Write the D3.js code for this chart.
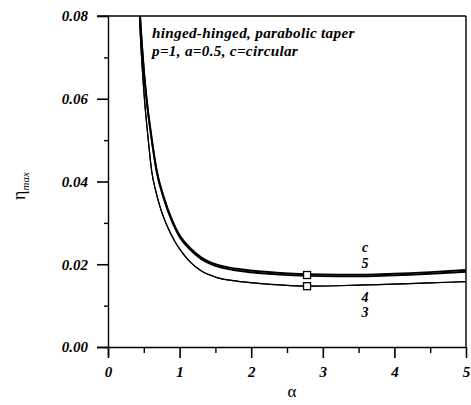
<!DOCTYPE html>
<html><head><meta charset="utf-8">
<script src="https://cdn.jsdelivr.net/npm/d3@7"></script>
<style>
html,body{margin:0;padding:0;background:#fff;}
svg text{font-family:"Liberation Serif","Times New Roman",serif;font-style:italic;fill:#000;}
</style></head>
<body><svg id="chart" width="471" height="405"></svg>
<script>
// ---- data ----
const xTicks = [0, 1, 2, 3, 4, 5];
const xMinorTicks = [0.5, 1.5, 2.5, 3.5, 4.5];
const yTicks = [0.00, 0.02, 0.04, 0.06, 0.08];
const yMinorTicks = [0.01, 0.03, 0.05, 0.07];

const alphaThick = [0.43, 0.447, 0.50, 0.54, 0.60, 0.68, 0.78, 0.90, 1.00, 1.15, 1.30, 1.50, 1.80, 2.10, 2.40, 2.78, 3.20, 3.60, 4.00, 4.50, 5.00];
const etaC       = [0.085, 0.080, 0.0672, 0.0599, 0.0517, 0.0427, 0.0362, 0.0305, 0.0270, 0.0239, 0.0217, 0.0200, 0.0189, 0.0183, 0.0179, 0.0176, 0.0175, 0.0175, 0.0177, 0.0181, 0.0186];
const eta5       = [0.085, 0.080, 0.0668, 0.0595, 0.0513, 0.0423, 0.0358, 0.0301, 0.0266, 0.0235, 0.0213, 0.0196, 0.0185, 0.0179, 0.0175, 0.0172, 0.0171, 0.0171, 0.0173, 0.0177, 0.0182];

const alphaThin  = [0.43, 0.44, 0.48, 0.51, 0.56, 0.61, 0.67, 0.73, 0.82, 0.94, 1.05, 1.15, 1.30, 1.50, 1.80, 2.10, 2.40, 2.78, 3.20, 3.60, 4.00, 4.50, 5.00];
const eta4       = [0.085, 0.080, 0.0670, 0.0597, 0.0505, 0.0425, 0.0375, 0.0337, 0.0295, 0.0253, 0.0225, 0.0205, 0.0184, 0.0169, 0.0159, 0.0154, 0.0150, 0.0147, 0.0148, 0.0150, 0.0152, 0.0155, 0.0158];
const eta3       = [0.085, 0.080, 0.0670, 0.0597, 0.0505, 0.0425, 0.0375, 0.0337, 0.0295, 0.0253, 0.0225, 0.0205, 0.0184, 0.0169, 0.0159, 0.0154, 0.0150, 0.0147, 0.0148, 0.0150, 0.0152, 0.0155, 0.0158];

const markerAlpha = [2.78, 2.78];
const markerEta   = [0.0174, 0.0147];

const seriesLabels = ["c", "5", "4", "3"];
const seriesLabelEta = [0.0230, 0.0191, 0.0109, 0.0073];
const seriesLabelAlpha = 3.59;

const noteLines = ["hinged-hinged, parabolic taper", "p=1, a=0.5, c=circular"];

// ---- drawing ----
const svg = d3.select("#chart");
const x = d3.scaleLinear().domain([0, 5]).range([108, 466]);
const y = d3.scaleLinear().domain([0, 0.08]).range([347, 16]);

svg.append("defs").append("clipPath").attr("id", "clip")
  .append("rect").attr("x", 108).attr("y", 16).attr("width", 358).attr("height", 331);

// frame
svg.append("line").attr("x1", 97).attr("x2", 466).attr("y1", y(0.08)).attr("y2", y(0.08)).attr("stroke", "#000").attr("stroke-width", 1.4);
svg.append("line").attr("x1", 466).attr("x2", 466).attr("y1", y(0.08)).attr("y2", y(0)).attr("stroke", "#000").attr("stroke-width", 1.4);

const styleAxis = g => {
  g.select(".domain").attr("stroke", "#000").attr("stroke-width", 1.4);
  g.selectAll(".tick line").attr("stroke", "#000").attr("stroke-width", 1.6);
  g.selectAll("text").style("font-size", "15px").style("font-style", "italic").style("font-weight", "bold")
    .style("font-family", '"Liberation Serif", serif');
};

// x axis
svg.append("g").attr("transform", `translate(0,${y(0)})`)
  .call(d3.axisBottom(x).tickValues(xTicks).tickSize(11).tickPadding(8).tickFormat(d3.format("d")).tickSizeOuter(0))
  .call(styleAxis)
  .call(g => g.select(".domain").attr("d", `M97,0.5H466`));
svg.append("g").attr("transform", `translate(0,${y(0)})`)
  .call(d3.axisBottom(x).tickValues(xMinorTicks).tickSize(6).tickFormat(""))
  .call(g => g.select(".domain").remove())
  .call(g => g.selectAll(".tick line").attr("stroke", "#000").attr("stroke-width", 1.4));

// y axis
svg.append("g").attr("transform", `translate(${x(0)},0)`)
  .call(d3.axisLeft(y).tickValues(yTicks).tickSize(11).tickPadding(9).tickFormat(d3.format(".2f")).tickSizeOuter(0))
  .call(styleAxis)
  .call(g => g.select(".domain").attr("d", `M0.5,${y(0.08)}V${y(0) + 9}`));
svg.append("g").attr("transform", `translate(${x(0)},0)`)
  .call(d3.axisLeft(y).tickValues(yMinorTicks).tickSize(4).tickFormat(""))
  .call(g => g.select(".domain").remove())
  .call(g => g.selectAll(".tick line").attr("stroke", "#000").attr("stroke-width", 1.4));

// axis titles
svg.append("text").attr("x", 292).attr("y", 397).attr("text-anchor", "middle")
  .style("font-size", "17px").style("font-style", "normal").text("α");
const yl = svg.append("text").attr("transform", "translate(25,186) rotate(-90)").attr("text-anchor", "middle")
  .style("font-size", "18px").style("font-style", "normal");
yl.append("tspan").text("η");
yl.append("tspan").attr("dy", 4).style("font-size", "11px").style("font-style", "italic").text("max");

// curves
const line = d3.line().x(d => x(d[0])).y(d => y(d[1])).curve(d3.curveMonotoneX);
const plot = svg.append("g").attr("clip-path", "url(#clip)");
const curves = [
  {a: alphaThick, e: etaC, w: 1.9},
  {a: alphaThick, e: eta5, w: 1.9},
  {a: alphaThin, e: eta4, w: 1.2},
  {a: alphaThin, e: eta3, w: 1.2}
];
curves.forEach(c => {
  plot.append("path").datum(c.a.map((v, i) => [v, c.e[i]]))
    .attr("d", line).attr("fill", "none").attr("stroke", "#000").attr("stroke-width", c.w);
});

// markers (open squares)
svg.selectAll("rect.mk").data(markerAlpha.map((a, i) => [a, markerEta[i]])).enter()
  .append("rect").attr("class", "mk")
  .attr("x", d => x(d[0]) - 3.5).attr("y", d => y(d[1]) - 3.5)
  .attr("width", 7).attr("height", 7)
  .attr("fill", "#fff").attr("stroke", "#000").attr("stroke-width", 1.3);

// series labels
svg.selectAll("text.sl").data(seriesLabels).enter().append("text").attr("class", "sl")
  .attr("x", x(seriesLabelAlpha)).attr("y", (d, i) => y(seriesLabelEta[i]))
  .attr("text-anchor", "middle").style("font-size", "14px").style("font-weight", "bold").text(d => d);

// note
svg.selectAll("text.note").data(noteLines).enter().append("text").attr("class", "note")
  .attr("x", 152).attr("y", (d, i) => 38 + i * 17.5)
  .style("font-size", "15.2px").style("letter-spacing", "0.3px").style("font-weight", "bold").text(d => d);
</script></body></html>
